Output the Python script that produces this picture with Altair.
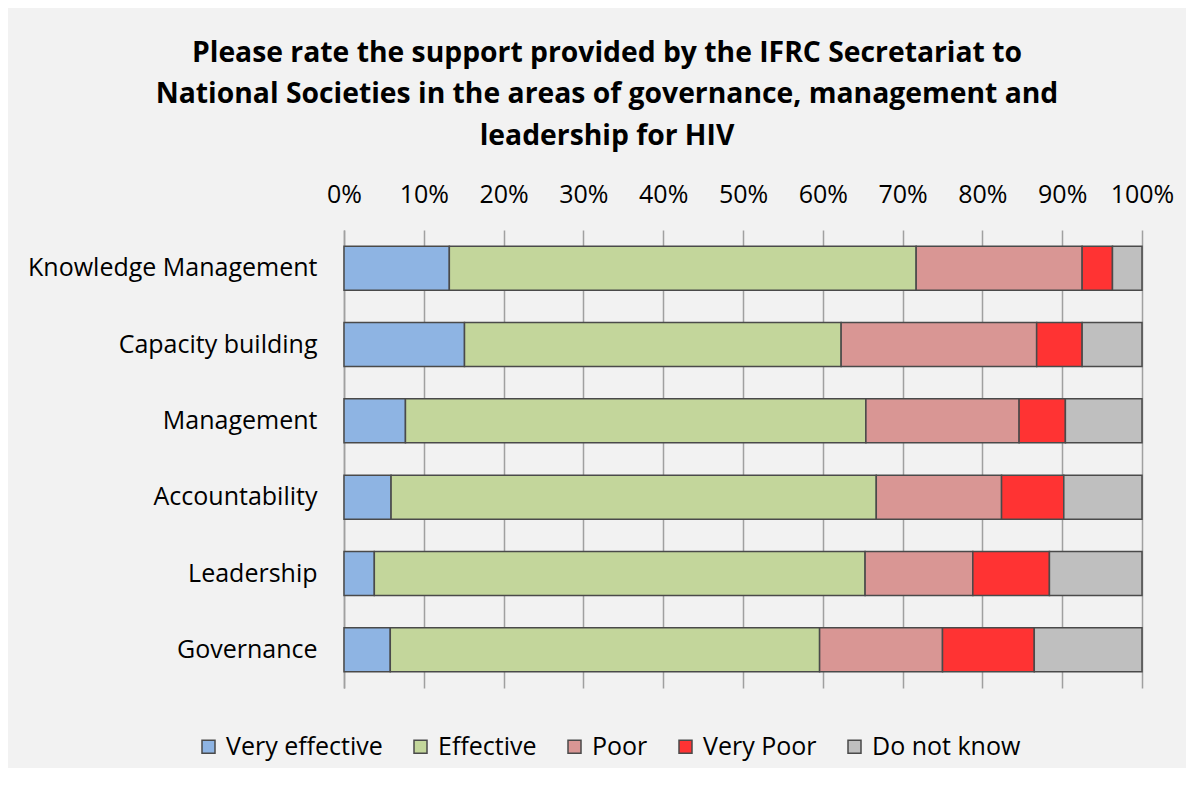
import altair as alt
import pandas as pd

categories = ["Knowledge Management", "Capacity building", "Management",
              "Accountability", "Leadership", "Governance"]
ratings = ["Very effective", "Effective", "Poor", "Very Poor", "Do not know"]
colors = ["#8eb4e3", "#c3d69b", "#d99694", "#ff3333", "#bfbfbf"]

very_effective = [13.2, 15.1, 7.7, 5.9, 3.8, 5.8]
effective = [58.5, 47.2, 57.7, 60.8, 61.5, 53.8]
poor = [20.8, 24.5, 19.2, 15.7, 13.5, 15.4]
very_poor = [3.8, 5.7, 5.8, 7.8, 9.6, 11.5]
do_not_know = [3.7, 7.5, 9.6, 9.8, 11.6, 13.5]

series = [very_effective, effective, poor, very_poor, do_not_know]
rows = []
for r_i, (rating, vals) in enumerate(zip(ratings, series)):
    for cat, v in zip(categories, vals):
        rows.append({"Category": cat, "Rating": rating, "Value": v, "Order": r_i})
df = pd.DataFrame(rows)

FONT = "Open Sans"

chart = alt.Chart(df).mark_bar(stroke="#4a4a4a", strokeWidth=1.5).encode(
    y=alt.Y("Category:N", sort=categories, title=None,
            scale=alt.Scale(paddingInner=0.423, paddingOuter=0.2115),
            axis=alt.Axis(labelFontSize=25, labelFont=FONT, labelColor="#000000",
                          labelPadding=27, labelLimit=0, ticks=False, domain=True,
                          domainColor="#a0a0a0", domainWidth=1.5, grid=False,
                          minExtent=336, maxExtent=336)),
    x=alt.X("Value:Q", stack="zero", title=None,
            scale=alt.Scale(domain=[0, 100], nice=False),
            axis=alt.Axis(orient="top", values=list(range(0, 101, 10)),
                          labelExpr="datum.value + '%'", labelFontSize=25,
                          labelFont=FONT, labelColor="#000000", labelPadding=23,
                          labelFlush=False, labelOverlap=False,
                          ticks=False, domain=False, grid=True,
                          gridColor="#a0a0a0", gridWidth=1.5,
                          minExtent=50, maxExtent=50)),
    color=alt.Color("Rating:N", scale=alt.Scale(domain=ratings, range=colors),
                    legend=alt.Legend(orient="none", direction="horizontal",
                                      legendX=-148, legendY=504, title=None,
                                      symbolType="square", symbolSize=169,
                                      symbolStrokeColor="#4a4a4a",
                                      symbolStrokeWidth=1.5, labelFontSize=25,
                                      labelFont=FONT, labelColor="#000000",
                                      labelOffset=5, columnPadding=25)),
    order=alt.Order("Order:Q"),
).properties(
    width=798, height=458,
    title=alt.TitleParams(
        text=["Please rate the support provided by the IFRC Secretariat to",
              "National Societies in the areas of governance, management and",
              "leadership for HIV"],
        font=FONT, fontSize=28.3, fontWeight="bold", color="#000000",
        lineHeight=41.5, anchor="middle", dx=-136, offset=29),
    background="#f2f2f2",
    padding={"left": 0, "top": 30, "right": 12, "bottom": 8},
).configure_view(stroke=None)

chart.save("out.html", embed_options={"renderer": "svg", "actions": False})
